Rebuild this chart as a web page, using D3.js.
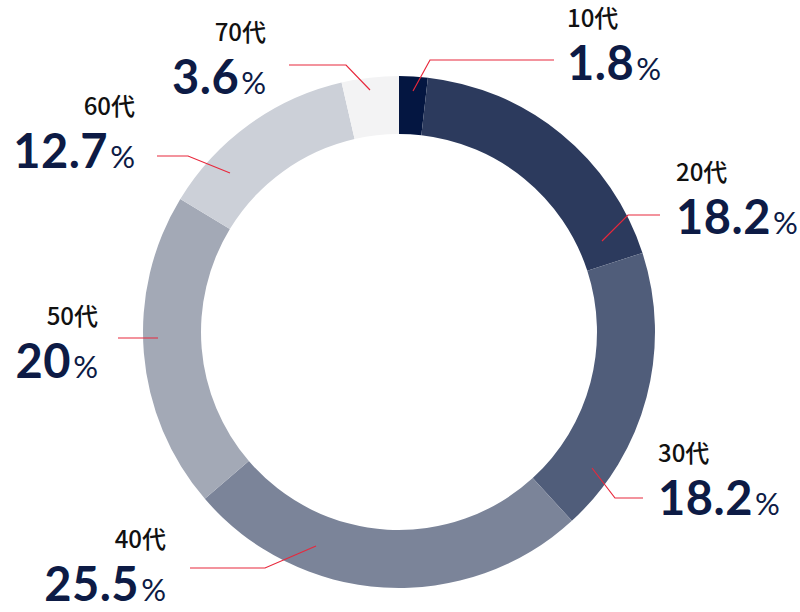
<!DOCTYPE html>
<html>
<head>
<meta charset="utf-8">
<script src="https://cdn.jsdelivr.net/npm/d3@7"></script>
<style>
  body { margin: 0; background: #fff; }
  .age { font-family: "Noto Sans CJK JP", "Noto Sans", sans-serif; font-weight: 500; font-size: 24px; fill: #111; }
  .pct { font-family: Lato, "Noto Sans", sans-serif; font-weight: 700; fill: #0d1b45; }
</style>
</head>
<body>
<div id="chart"></div>
<script>
// data
var ages = ['10代', '20代', '30代', '40代', '50代', '60代', '70代']
var shares = [1.8, 18.2, 18.2, 25.5, 20, 12.7, 3.6]
var colors = ['#041641', '#2c3a5d', '#505d7a', '#7b8499', '#a3a9b6', '#ccd0d8', '#f3f3f4']

// label layout: text anchor point, alignment, leader line points (start, elbow, end)
var labelPos = [
  {x: 567, y: 27, anchor: 'start', line: [[413, 91], [430, 60], [554, 60]]},
  {x: 676, y: 181, anchor: 'start', line: [[602, 241], [628, 215], [660, 215]]},
  {x: 658, y: 462, anchor: 'start', line: [[592, 468], [615, 498], [643, 498]]},
  {x: 166, y: 548, anchor: 'end', line: [[316, 546], [265, 568], [190, 568]]},
  {x: 98, y: 325, anchor: 'end', line: [[158, 338], [118, 338]]},
  {x: 135, y: 115, anchor: 'end', line: [[230, 173], [188, 156], [157, 156]]},
  {x: 266, y: 41, anchor: 'end', line: [[370, 90], [346, 65], [289, 65]]}
]

var width = 800, height = 612
var cx = 399, cy = 332
var outerR = 256, innerR = 198

var svg = d3.select('#chart').append('svg')
  .attr('width', width).attr('height', height)

var rows = ages.map(function(a, i){ return {age: a, share: shares[i], i: i} })

var pie = d3.pie().sort(null).value(function(d){ return d.share })
var arc = d3.arc().innerRadius(innerR).outerRadius(outerR)

var g = svg.append('g').attr('transform', 'translate(' + cx + ',' + cy + ')')
g.selectAll('path').data(pie(rows)).enter().append('path')
  .attr('d', arc)
  .attr('fill', function(d){ return colors[d.data.i] })

// leader lines
var line = d3.line()
svg.selectAll('path.leader').data(labelPos).enter().append('path')
  .attr('class', 'leader')
  .attr('d', function(d){ return line(d.line) })
  .attr('fill', 'none')
  .attr('stroke', '#e8283c')
  .attr('stroke-width', 1.2)

// labels
var lab = svg.selectAll('g.lab').data(rows).enter().append('g').attr('class', 'lab')

lab.append('text').attr('class', 'age')
  .attr('x', function(d){ return labelPos[d.i].x })
  .attr('y', function(d){ return labelPos[d.i].y })
  .attr('text-anchor', function(d){ return labelPos[d.i].anchor })
  .text(function(d){ return d.age })

var pt = lab.append('text').attr('class', 'pct')
  .attr('x', function(d){ return labelPos[d.i].x })
  .attr('y', function(d){ return labelPos[d.i].y + 53 })
  .attr('text-anchor', function(d){ return labelPos[d.i].anchor })
pt.append('tspan').attr('font-size', 47).attr('letter-spacing', 0.5).text(function(d){ return d.share })
pt.append('tspan').attr('font-size', 31).attr('font-weight', 400).attr('dx', 2).text('%')
</script>
</body>
</html>
